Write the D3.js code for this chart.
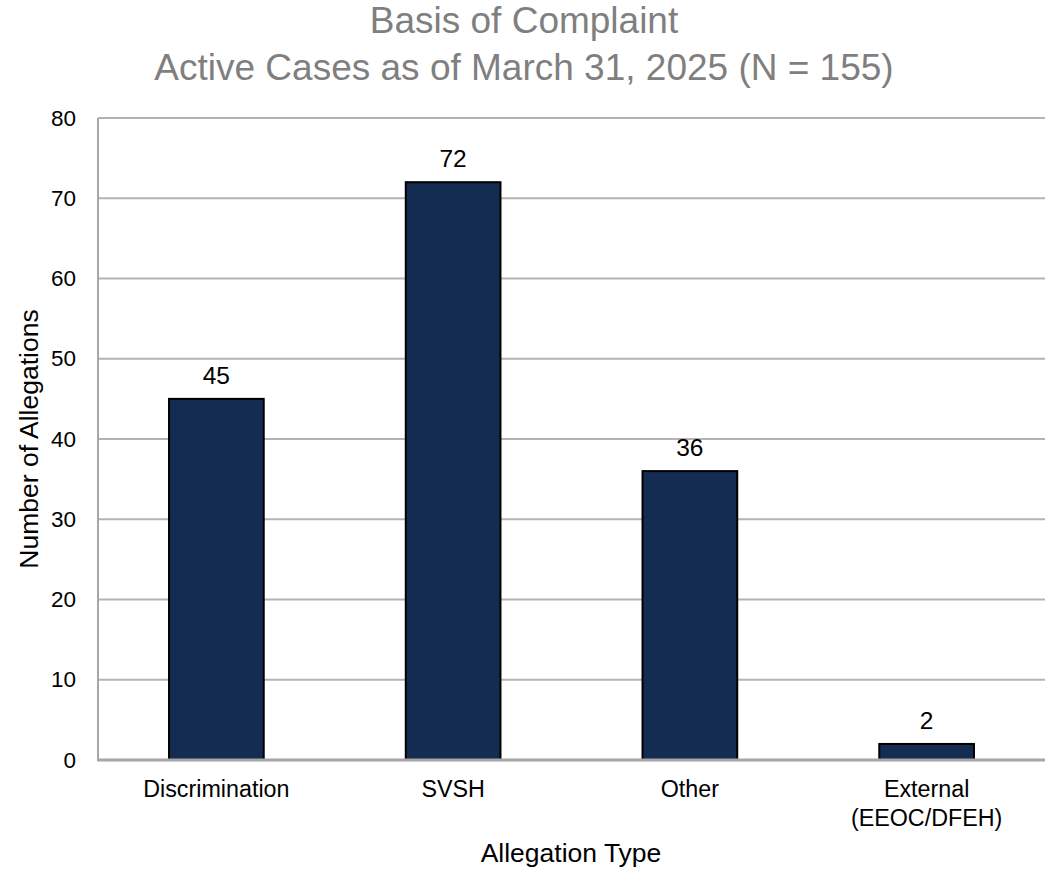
<!DOCTYPE html>
<html>
<head>
<meta charset="utf-8">
<script src="https://cdn.jsdelivr.net/npm/d3@7"></script>
<style>
  html, body { margin: 0; padding: 0; background: #fff; }
  svg { display: block; font-family: "Liberation Sans", Arial, sans-serif; }
</style>
</head>
<body>
<svg id="chart" width="1054" height="869"></svg>
<script>
const categories = [["Discrimination"], ["SVSH"], ["Other"], ["External", "(EEOC/DFEH)"]];
const values = [45, 72, 36, 2];
const yTicks = [0, 10, 20, 30, 40, 50, 60, 70, 80];
const titleLines = ["Basis of Complaint", "Active Cases as of March 31, 2025 (N = 155)"];
const xTitle = "Allegation Type";
const yTitle = "Number of Allegations";

const svg = d3.select("#chart");
const margin = { left: 98, right: 9, top: 118, bottom: 109 };
const W = 1054, H = 869;
const x = d3.scaleBand()
  .domain(categories.map((d, i) => i))
  .range([margin.left, W - margin.right])
  .paddingInner(0.6).paddingOuter(0.3);
const y = d3.scaleLinear().domain([0, 80]).range([H - margin.bottom, margin.top]);

// gridlines
svg.append("g").selectAll("line").data(yTicks.filter(t => t > 0)).join("line")
  .attr("x1", margin.left).attr("x2", W - margin.right)
  .attr("y1", d => y(d)).attr("y2", d => y(d))
  .attr("stroke", "#b3b3b3").attr("stroke-width", 2);

// left axis line
svg.append("line")
  .attr("x1", margin.left).attr("x2", margin.left)
  .attr("y1", y(80)).attr("y2", y(0))
  .attr("stroke", "#a6a6a6").attr("stroke-width", 2);

// y tick labels
const yAxis = d3.axisLeft(y).tickValues(yTicks).tickSize(0).tickPadding(22);
const gy = svg.append("g").attr("transform", `translate(${margin.left},0)`).call(yAxis);
gy.select(".domain").remove();
gy.selectAll("text").attr("font-size", 22.5).attr("fill", "#000")
  .attr("font-family", "Liberation Sans, Arial, sans-serif");

// bars
svg.append("g").selectAll("rect").data(values).join("rect")
  .attr("x", (d, i) => x(i)).attr("width", x.bandwidth())
  .attr("y", d => y(d)).attr("height", d => y(0) - y(d))
  .attr("fill", "#142b52").attr("stroke", "#000").attr("stroke-width", 2);

// bottom axis line
svg.append("line")
  .attr("x1", margin.left - 1).attr("x2", W - margin.right)
  .attr("y1", y(0)).attr("y2", y(0))
  .attr("stroke", "#a6a6a6").attr("stroke-width", 3);

// value labels
svg.append("g").selectAll("text").data(values).join("text")
  .attr("x", (d, i) => x(i) + x.bandwidth() / 2)
  .attr("y", d => y(d) - 15)
  .attr("text-anchor", "middle").attr("font-size", 24.5).attr("fill", "#000")
  .text(d => d);

// category labels
const cat = svg.append("g").selectAll("text").data(categories).join("text")
  .attr("x", (d, i) => x(i) + x.bandwidth() / 2)
  .attr("y", y(0) + 37)
  .attr("text-anchor", "middle").attr("font-size", 23.3).attr("fill", "#000");
cat.selectAll("tspan").data(d => d).join("tspan")
  .attr("x", function() { return d3.select(this.parentNode).attr("x"); })
  .attr("dy", (d, j) => j === 0 ? 0 : 29)
  .text(d => d);

// axis titles
svg.append("text").attr("x", 571).attr("y", 862)
  .attr("text-anchor", "middle").attr("font-size", 26.5).attr("fill", "#000").text(xTitle);
svg.append("text").attr("transform", `translate(38,${(y(0) + y(80)) / 2}) rotate(-90)`)
  .attr("text-anchor", "middle").attr("font-size", 26.5).attr("fill", "#000").text(yTitle);

// title
svg.append("g").selectAll("text").data(titleLines).join("text")
  .attr("x", 524)
  .attr("y", (d, i) => 33 + i * 47)
  .attr("text-anchor", "middle").attr("font-size", 37).attr("fill", "#7f7f7f")
  .text(d => d);
</script>
</body>
</html>
